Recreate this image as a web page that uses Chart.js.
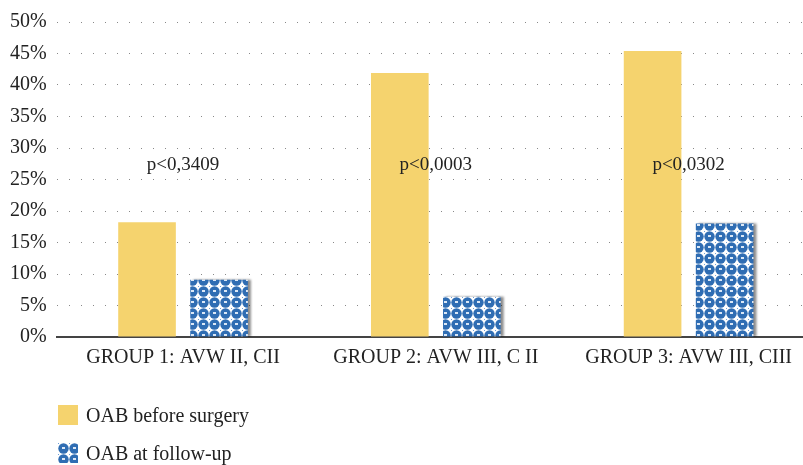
<!DOCTYPE html>
<html>
<head>
<meta charset="utf-8">
<script src="https://cdn.jsdelivr.net/npm/chart.js@4"></script>
<style>
  body { margin: 0; background: #fff; font-family: "Liberation Serif", serif; overflow: hidden; }
  #wrap { position: relative; width: 815px; height: 371px; }
  #legend { margin: 25px 0 0 58px; }
  .item { display: flex; align-items: center; height: 38px; font-size: 20px; color: #222; }
  .item canvas { width: 20px; height: 20px; margin-right: 8px; }
</style>
</head>
<body>
<div id="wrap"><canvas id="chart"></canvas></div>
<div id="legend"></div>
<script>
var categories = ['GROUP 1: AVW II, CII', 'GROUP 2: AVW III, C II', 'GROUP 3: AVW III, CIII'];
var beforeSurgery = [18.2, 41.9, 45.4];
var followUp = [9.1, 6.4, 18.0];
var pValues = ['p<0,3409', 'p<0,0003', 'p<0,0302'];
var pLabelY = 27.3;

function makePattern() {
  var c = document.createElement('canvas');
  c.width = 11; c.height = 11;
  var g = c.getContext('2d');
  g.fillStyle = '#ffffff';
  g.fillRect(0, 0, 11, 11);
  g.fillStyle = '#2f6db3';
  g.beginPath(); g.arc(5.5, 5.5, 5.2, 0, Math.PI * 2); g.fill();
  g.fillStyle = '#6f9fd6';
  g.fillRect(0, 0, 1, 1);
  g.fillStyle = '#dce8f6';
  g.fillRect(4, 4, 3, 2);
  return g.createPattern(c, 'repeat');
}
var pattern = makePattern();

var shadowPlugin = {
  id: 'barShadow',
  beforeDatasetDraw: function(chart, args) {
    if (args.index === 1) {
      chart.ctx.save();
      chart.ctx.shadowColor = 'rgba(0,0,0,0.45)';
      chart.ctx.shadowOffsetX = 3;
      chart.ctx.shadowOffsetY = 0;
      chart.ctx.shadowBlur = 2;
    }
  },
  afterDatasetDraw: function(chart, args) {
    if (args.index === 1) chart.ctx.restore();
  }
};

var pLabelPlugin = {
  id: 'pLabels',
  afterDatasetsDraw: function(chart) {
    var ctx = chart.ctx;
    var x = chart.scales.x, y = chart.scales.y;
    ctx.save();
    ctx.font = '19px "Liberation Serif", serif';
    ctx.fillStyle = '#222';
    ctx.textAlign = 'center';
    ctx.textBaseline = 'middle';
    pValues.forEach(function(t, i) {
      ctx.fillText(t, x.getPixelForValue(i), y.getPixelForValue(pLabelY));
    });
    ctx.restore();
  }
};

var chart = new Chart(document.getElementById('chart'), {
  type: 'bar',
  data: {
    labels: categories,
    datasets: [{
      label: 'OAB before surgery',
      data: beforeSurgery,
      backgroundColor: '#f5d36e'
    }, {
      label: 'OAB at follow-up',
      data: followUp,
      backgroundColor: pattern
    }]
  },
  options: {
    responsive: true,
    maintainAspectRatio: false,
    animation: false,
    layout: { padding: { top: 15, right: 0, left: 0, bottom: 0 } },
    barPercentage: 0.8,
    categoryPercentage: 0.57,
    plugins: { legend: { display: false }, tooltip: { enabled: false } },
    scales: {
      x: {
        grid: { display: false },
        border: { display: true, color: '#444', width: 2 },
        ticks: { color: '#222', font: { family: '"Liberation Serif", serif', size: 20 }, padding: 1 }
      },
      y: {
        min: 0, max: 50,
        ticks: {
          stepSize: 5,
          color: '#222',
          padding: 10,
          font: { family: '"Liberation Serif", serif', size: 20 },
          callback: function(v) { return v + '%'; }
        },
        grid: { color: '#888', lineWidth: 1, drawTicks: false },
        border: { display: false, dash: [1, 11] }
      }
    }
  },
  plugins: [shadowPlugin, pLabelPlugin]
});

// legend
var legend = document.getElementById('legend');
chart.data.datasets.forEach(function(ds, i) {
  var row = document.createElement('div');
  row.className = 'item';
  var sw = document.createElement('canvas');
  sw.width = 20; sw.height = 20;
  var g = sw.getContext('2d');
  g.fillStyle = ds.backgroundColor;
  g.fillRect(0, 0, 20, 20);
  row.appendChild(sw);
  row.appendChild(document.createTextNode(ds.label));
  legend.appendChild(row);
});
</script>
</body>
</html>
